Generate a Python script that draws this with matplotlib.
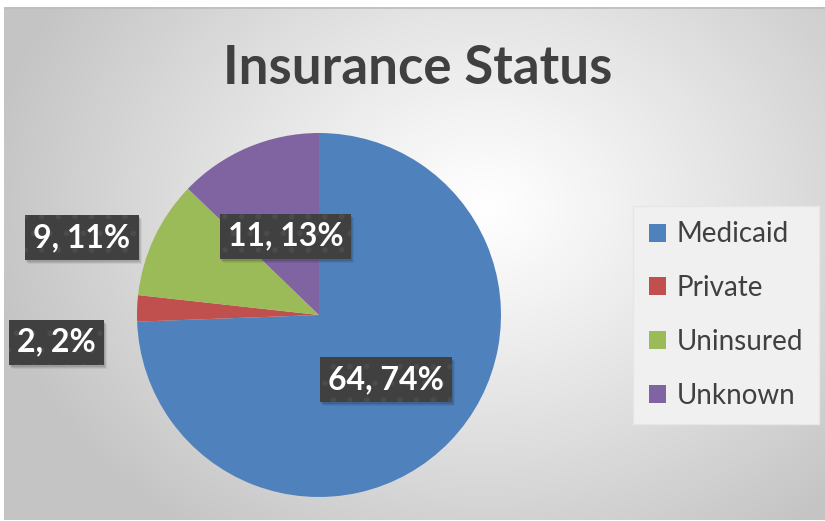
import numpy as np
import matplotlib.pyplot as plt
from matplotlib.patches import Rectangle
from matplotlib.transforms import IdentityTransform

# data
categories = ["Medicaid", "Private", "Uninsured", "Unknown"]
counts = [64, 2, 9, 11]
percents = [74, 2, 11, 13]  # as shown on the chart's labels
colors = ["#4f81bd", "#c0504d", "#9bbb59", "#8064a2"]

# label placement (radial distance, angle nudge in degrees)
label_dist = [0.51, 1.45, 1.37, 0.47]
label_nudge = [0, 8, 7, 0]

plt.rcParams["hatch.linewidth"] = 1.6

W, H = 825, 521
fig = plt.figure(figsize=(W / 100, H / 100), dpi=100)
fig.patch.set_facecolor("white")

# ---------- background: radial gradient panel ----------
bg = fig.add_axes([4 / W, 1 / H, 821 / W, 513 / H])
bg.set_axis_off()
yy, xx = np.mgrid[0:513, 0:821]
cx, cy = 480, 200
d = np.sqrt(((xx - cx) / 500.0) ** 2 + ((yy - cy) / 400.0) ** 2)
d = np.clip(d, 0, 1)
shade = 1.0 - 0.23 * d ** 1.1
bg.imshow(np.dstack([shade] * 3), aspect="auto", interpolation="bilinear")
bg.plot([0, 820], [0, 0], color="#bdbdbd", lw=1.2)

# ---------- title ----------
fig.text(418 / W, 1 - 68 / H, "Insurance Status", ha="center", va="center",
         fontsize=38, fontweight="bold", color="#404040", family="Lato")

# ---------- pie ----------
cxp, cyp, r = 319, 315, 182
ax = fig.add_axes([(cxp - r) / W, (H - cyp - r) / H, 2 * r / W, 2 * r / H])
wedges, _ = ax.pie(counts, colors=colors, startangle=90, counterclock=False,
                   radius=1.0, wedgeprops=dict(linewidth=0))
ax.set_xlim(-1, 1)
ax.set_ylim(-1, 1)
ax.set_aspect("equal")
ax.set_axis_off()

labels = []
for w, c, p, dist, nudge in zip(wedges, counts, percents, label_dist, label_nudge):
    ang = np.deg2rad((w.theta1 + w.theta2) / 2 + nudge)
    x, y = dist * np.cos(ang), dist * np.sin(ang)
    t = ax.text(x, y, f"{c}, {p}%", ha="center", va="center", fontsize=23,
                fontweight="bold", family="Lato", color="white", zorder=5,
                bbox=dict(boxstyle="square,pad=0.25", facecolor="#404040",
                          edgecolor="#4b4b4b", linewidth=0, hatch="."),
                clip_on=False)
    labels.append(t)

# soft drop shadows behind the label boxes
fig.canvas.draw()
for t in labels:
    bb = t.get_bbox_patch().get_window_extent()
    for k, a in [(4, 0.06), (3, 0.08), (2, 0.1)]:
        ax.add_patch(Rectangle((bb.x0 + k - 1, bb.y0 - k), bb.width, bb.height,
                               transform=IdentityTransform(), facecolor="black",
                               alpha=a, linewidth=0, zorder=4, clip_on=False))

# ---------- legend ----------
leg = fig.legend(wedges, categories, loc="center", bbox_to_anchor=(726 / W, 1 - 315 / H),
                 prop=dict(family="Lato", size=20), labelcolor="#404040",
                 frameon=True, fancybox=False, handlelength=0.62, handleheight=0.62,
                 handletextpad=0.4, labelspacing=1.0, borderpad=0.55)
leg.get_frame().set_facecolor("#f0f0f0")
leg.get_frame().set_edgecolor("#e6e6e6")
leg.get_frame().set_alpha(1)

fig.savefig("out.png", dpi=100)
